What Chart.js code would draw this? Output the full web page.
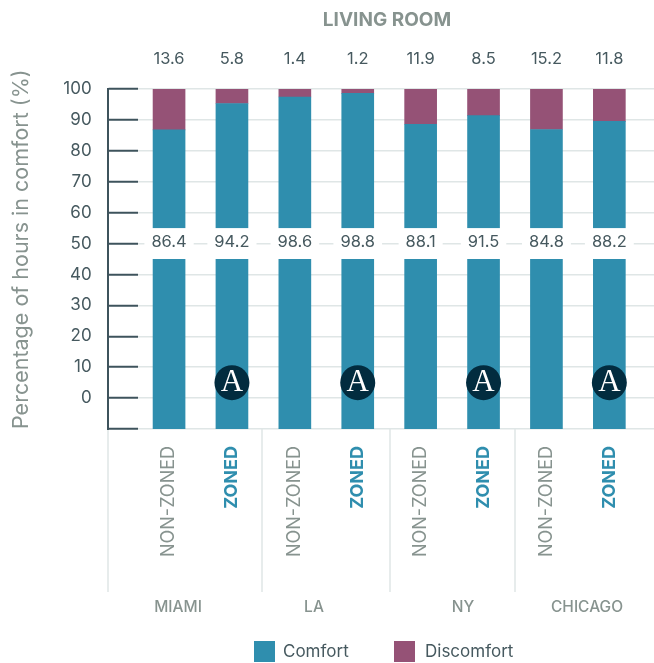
<!DOCTYPE html>
<html><head><meta charset="utf-8">
<style>html,body{margin:0;padding:0;background:#fff}#w{width:654px;height:663px;position:relative}</style>
<script src="https://cdn.jsdelivr.net/npm/chart.js@4"></script></head>
<body><div id="w"><canvas id="c" width="654" height="663"></canvas></div>
<script>
const chartTitle = 'LIVING ROOM';
const yAxisTitle = 'Percentage of hours in comfort (%)';
const barLabels = ['NON-ZONED','ZONED','NON-ZONED','ZONED','NON-ZONED','ZONED','NON-ZONED','ZONED'];
const cities = ['MIAMI','LA','NY','CHICAGO'];
const comfortHeights = [86.8,95.3,97.4,98.6,88.6,91.4,86.9,89.5];
const comfortLabels = ['86.4','94.2','98.6','98.8','88.1','91.5','84.8','88.2'];
const discomfortLabels = ['13.6','5.8','1.4','1.2','11.9','8.5','15.2','11.8'];
const seriesNames = ['Comfort','Discomfort'];

const FONT = 'Inter, sans-serif';
const BLUE = '#2f8eae', PLUM = '#955276', DARK = '#3e535c', TXT = '#46595f', GREY = '#87938f', GRID = '#dfe6e6';
const overlay = {
  id:'overlay',
  beforeDatasetsDraw(chart){
    const {ctx,scales:{x,y}} = chart, top=y.getPixelForValue(100), bot=y.getPixelForValue(-10);
    ctx.save();
    ctx.strokeStyle=GRID; ctx.lineWidth=1.5;
    [108,262,390,515].forEach(px=>{ctx.beginPath();ctx.moveTo(px,bot);ctx.lineTo(px,592);ctx.stroke();});
    ctx.strokeStyle=DARK; ctx.lineWidth=2;
    ctx.beginPath();ctx.moveTo(108,top-1);ctx.lineTo(108,bot+1);ctx.stroke();
    ctx.restore();
  },
  afterDatasetsDraw(chart){
    const {ctx,scales:{x,y}} = chart;
    ctx.save();
    const bTop=y.getPixelForValue(55), bBot=y.getPixelForValue(45), mid=y.getPixelForValue(50);
    ctx.textAlign='center'; ctx.textBaseline='middle'; ctx.font='16.5px '+FONT;
    barLabels.forEach((_,i)=>{
      const cx=x.getPixelForValue(i), w=ctx.measureText(comfortLabels[i]).width;
      ctx.fillStyle='#fff';
      ctx.fillRect(cx-18,bTop,36,bBot-bTop);
      ctx.fillRect(cx-w/2-7,mid-3,w+14,6);
      ctx.fillStyle=TXT;
      ctx.fillText(comfortLabels[i],cx,mid-1);
      ctx.fillText(discomfortLabels[i],cx,59);
    });
    ctx.font='bold 19px '+FONT; ctx.fillStyle=GREY; ctx.fillText(chartTitle,387,20);
    ctx.font='500 15.5px '+FONT;
    [178,314,463,587].forEach((px,i)=>ctx.fillText(cities[i],px,607));
    barLabels.forEach((lab,i)=>{
      if(lab!=='ZONED')return;
      const cx=x.getPixelForValue(i), cy=y.getPixelForValue(5);
      ctx.fillStyle='#022c3f'; ctx.beginPath(); ctx.arc(cx,cy,17.5,0,Math.PI*2); ctx.fill();
      ctx.fillStyle='#fff'; ctx.font='31px "Liberation Serif", serif'; ctx.fillText('A',cx,cy);
    });
    [[254,283,0],[394,425,1]].forEach(([bx,tx,k])=>{
      ctx.fillStyle=k?PLUM:BLUE; ctx.fillRect(bx,641,21,21);
      ctx.fillStyle=TXT; ctx.font='17px '+FONT; ctx.textAlign='left'; ctx.fillText(seriesNames[k],tx,652);
    });
    ctx.restore();
  }
};
new Chart(document.getElementById('c'),{
  type:'bar',
  data:{datasets:[
    {label:seriesNames[0],backgroundColor:BLUE,barThickness:32,grouped:false,
     data:comfortHeights.map((v,i)=>({x:i,y:[-10,v]}))},
    {label:seriesNames[1],backgroundColor:PLUM,barThickness:32,grouped:false,
     data:comfortHeights.map((v,i)=>({x:i,y:[v,100]}))}
  ]},
  plugins:[overlay],
  options:{
    responsive:false,animation:false,
    layout:{padding:{top:89,left:0,right:0,bottom:0}},
    plugins:{legend:{display:false},title:{display:false},tooltip:{enabled:false}},
    scales:{
      x:{type:'linear',offset:false,min:-0.5,max:7.71,border:{display:false},grid:{display:false},
        afterFit(s){s.height=234;},
        afterBuildTicks(s){s.ticks=barLabels.map((_,i)=>({value:i}));},
        ticks:{autoSkip:false,minRotation:90,maxRotation:90,padding:9,
          callback:(v)=>barLabels[v],
          color:(c)=>barLabels[c.index]==='ZONED'?BLUE:GREY,
          font:(c)=>({family:FONT,size:18,weight:barLabels[c.index]==='ZONED'?'bold':'normal'})}},
      y:{min:-10,max:100,border:{display:false},
        afterFit(s){s.width=137.6;},
        grid:{color:GRID,lineWidth:1.5,tickColor:DARK,tickLength:29,tickWidth:2},
        ticks:{stepSize:10,padding:17,color:TXT,font:{family:FONT,size:17},callback:v=>v===-10?'':v},
        title:{display:true,text:yAxisTitle,align:'start',color:GREY,font:{family:FONT,size:21.5},padding:{top:9,bottom:0}}}
    }
  }
});
</script></body></html>
